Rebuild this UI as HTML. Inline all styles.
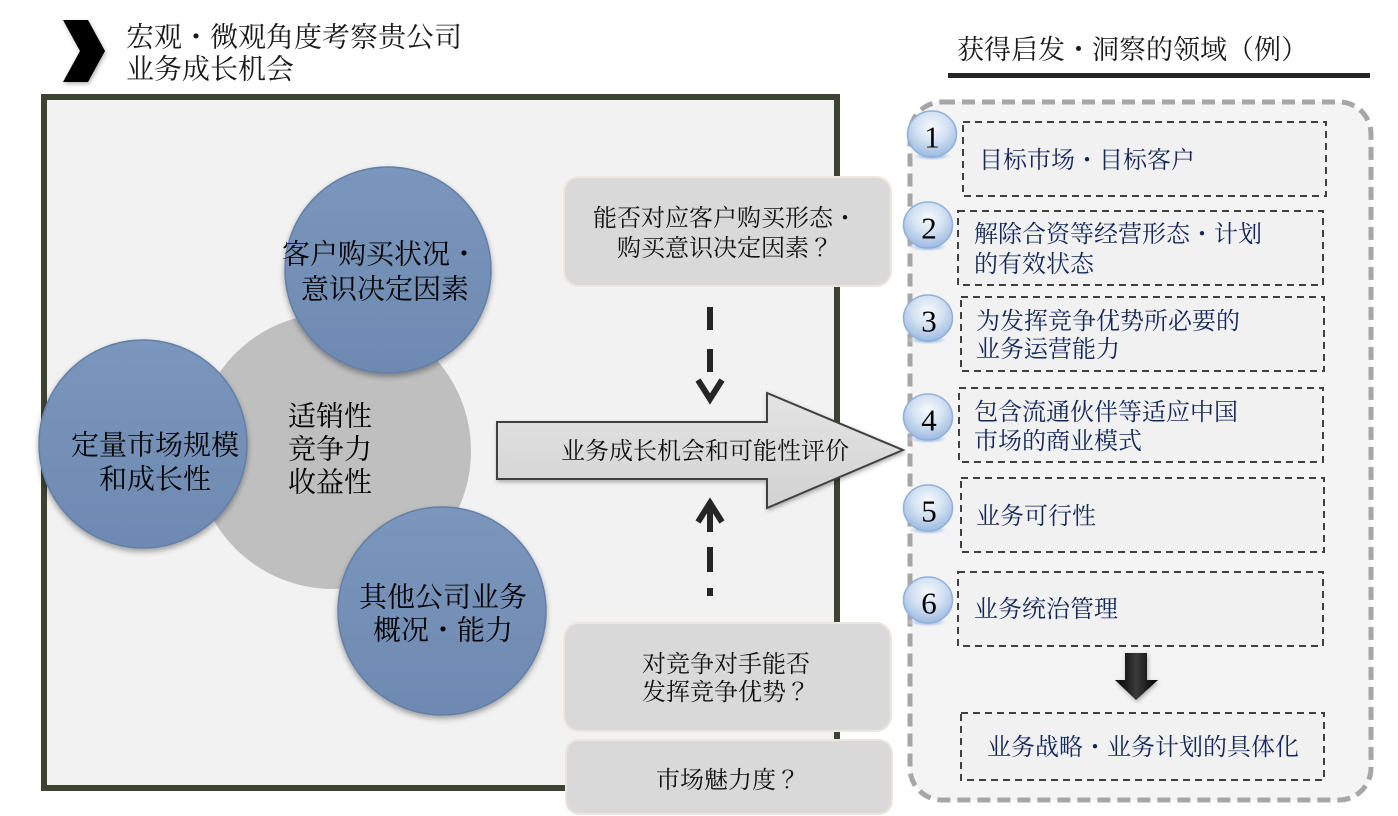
<!DOCTYPE html>
<html><head><meta charset="utf-8">
<style>
html,body{margin:0;padding:0;background:#fff;}
svg{display:block;}
text{font-family:"Liberation Serif","Noto Serif CJK JP","Noto Serif CJK SC","Noto Sans CJK JP",serif;}
</style></head>
<body>
<svg width="1398" height="816" viewBox="0 0 1398 816" xmlns="http://www.w3.org/2000/svg">
<defs>
  <linearGradient id="blueG" x1="0" y1="0" x2="0" y2="1">
    <stop offset="0" stop-color="#7b96bc"/>
    <stop offset="0.5" stop-color="#7490b6"/>
    <stop offset="1" stop-color="#6e8ab2"/>
  </linearGradient>
  <filter id="sh" x="-20%" y="-20%" width="140%" height="140%">
    <feDropShadow dx="0" dy="3" stdDeviation="3" flood-color="#000" flood-opacity="0.35"/>
  </filter>
  <filter id="sh2" x="-20%" y="-20%" width="140%" height="140%">
    <feDropShadow dx="1" dy="2" stdDeviation="2" flood-color="#000" flood-opacity="0.3"/>
  </filter>
  <linearGradient id="arrowG" x1="0" y1="0" x2="0" y2="1">
    <stop offset="0" stop-color="#e4e4e4"/>
    <stop offset="1" stop-color="#d2d2d2"/>
  </linearGradient>
  <radialGradient id="bub" cx="0.5" cy="0.35" r="0.65">
    <stop offset="0" stop-color="#f7fafd"/>
    <stop offset="0.5" stop-color="#d3e1f2"/>
    <stop offset="1" stop-color="#9dbae0"/>
  </radialGradient>
  <radialGradient id="bubSh" cx="0.5" cy="0.5" r="0.5">
    <stop offset="0" stop-color="#6f98d2"/>
    <stop offset="0.6" stop-color="#b9cfec" stop-opacity="0.7"/>
    <stop offset="1" stop-color="#ffffff" stop-opacity="0"/>
  </radialGradient>
  <linearGradient id="blkG" x1="0" y1="0" x2="1" y2="0">
    <stop offset="0" stop-color="#000"/>
    <stop offset="0.5" stop-color="#3a3a3a"/>
    <stop offset="1" stop-color="#000"/>
  </linearGradient>
  <g id="bubble">
    <ellipse cx="0" cy="22" rx="22" ry="5" fill="url(#bubSh)"/>
    <ellipse cx="0" cy="0" rx="24.5" ry="23" fill="url(#bub)" stroke="#8fb0da" stroke-width="1.5"/>
  </g>
</defs>

<!-- Header left -->
<polygon points="63,20 88,20 105,51 88,82 63,82 80,51" fill="#000" filter="url(#sh2)"/>
<text x="126" y="38" font-size="28" dominant-baseline="central" fill="#1a1a1a">宏观・微观角度考察贵公司</text>
<text x="126" y="70" font-size="28" dominant-baseline="central" fill="#1a1a1a">业务成长机会</text>

<!-- Header right -->
<text x="957" y="50" font-size="27" dominant-baseline="central" fill="#1a1a1a">获得启发・洞察的领域（例）</text>
<rect x="948" y="73" width="422" height="5" fill="#262626"/>

<!-- Left frame -->
<rect x="44" y="97" width="793" height="691" fill="#f2f2f2" stroke="#3c4332" stroke-width="6"/>

<!-- circles -->
<circle cx="333" cy="451" r="138" fill="#bfbfbf"/>
<circle cx="143" cy="444" r="104" fill="url(#blueG)" stroke="#637fa8" stroke-width="1.5" filter="url(#sh)"/>
<circle cx="388" cy="270" r="103" fill="url(#blueG)" stroke="#637fa8" stroke-width="1.5" filter="url(#sh)"/>
<circle cx="442" cy="611" r="104" fill="url(#blueG)" stroke="#637fa8" stroke-width="1.5" filter="url(#sh)"/>

<g font-size="28" fill="#000" dominant-baseline="central">
  <text x="380" y="255" text-anchor="middle">客户购买状况・</text>
  <text x="385" y="290" text-anchor="middle">意识决定因素</text>
  <text x="155" y="446" text-anchor="middle">定量市场规模</text>
  <text x="155" y="480" text-anchor="middle">和成长性</text>
  <text x="288" y="417">适销性</text>
  <text x="288" y="450">竞争力</text>
  <text x="288" y="483">收益性</text>
  <text x="443" y="598" text-anchor="middle">其他公司业务</text>
  <text x="443" y="631" text-anchor="middle">概况・能力</text>
</g>

<!-- Callout boxes -->
<rect x="564" y="177" width="327" height="109" rx="15" fill="#d9d9d9" stroke="#ebe7df" stroke-width="2"/>
<text x="725" y="219" font-size="24" text-anchor="middle" dominant-baseline="central" fill="#111">能否对应客户购买形态・</text>
<text x="725" y="249" font-size="24" text-anchor="middle" dominant-baseline="central" fill="#111">购买意识决定因素？</text>

<rect x="564" y="623" width="327" height="108" rx="15" fill="#d9d9d9" stroke="#ebe7df" stroke-width="2"/>
<text x="726" y="665" font-size="24" text-anchor="middle" dominant-baseline="central" fill="#111">对竞争对手能否</text>
<text x="726" y="693" font-size="24" text-anchor="middle" dominant-baseline="central" fill="#111">发挥竞争优势？</text>

<rect x="566" y="740" width="326" height="74" rx="13" fill="#d9d9d9" stroke="#ebe7df" stroke-width="2"/>
<text x="728" y="781" font-size="24" text-anchor="middle" dominant-baseline="central" fill="#111">市场魅力度？</text>

<!-- dashed arrow down -->
<rect x="707" y="307" width="6" height="23" fill="#262626"/>
<rect x="707" y="349" width="6" height="23" fill="#262626"/>
<polyline points="698,380 710,399 722,380" fill="none" stroke="#262626" stroke-width="6" stroke-linejoin="miter"/>

<!-- dashed arrow up -->
<rect x="707" y="506" width="6" height="26" fill="#262626"/>
<polyline points="698,522 710,503 722,522" fill="none" stroke="#262626" stroke-width="6" stroke-linejoin="miter"/>
<rect x="707" y="547" width="6" height="25" fill="#262626"/>
<rect x="707" y="588" width="6" height="8" fill="#262626"/>

<!-- big arrow -->
<polygon points="497,422 767,422 767,393 903,450 767,508 767,479 497,479" fill="url(#arrowG)" stroke="#404040" stroke-width="2" stroke-linejoin="miter" filter="url(#sh2)"/>
<text x="705" y="452" font-size="24" text-anchor="middle" dominant-baseline="central" fill="#111">业务成长机会和可能性评价</text>

<!-- Right container -->
<rect x="910" y="102" width="461" height="698" rx="32" fill="#f4f4f4" stroke="#a6a6a6" stroke-width="5" stroke-dasharray="13 7"/>

<g fill="#f1f1f1" stroke="#404040" stroke-width="2" stroke-dasharray="7 5">
  <rect x="963" y="122" width="363" height="74"/>
  <rect x="958" y="211" width="365" height="74"/>
  <rect x="961" y="297" width="363" height="74"/>
  <rect x="959" y="388" width="364" height="74"/>
  <rect x="961" y="478" width="363" height="74"/>
  <rect x="958" y="572" width="365" height="74"/>
  <rect x="961" y="713" width="363" height="67"/>
</g>

<g font-size="24" fill="#14275a" dominant-baseline="central">
  <text x="979" y="161">目标市场・目标客户</text>
  <text x="974" y="235">解除合资等经营形态・计划</text>
  <text x="974" y="265">的有效状态</text>
  <text x="976" y="322">为发挥竞争优势所必要的</text>
  <text x="976" y="350">业务运营能力</text>
  <text x="974" y="413">包含流通伙伴等适应中国</text>
  <text x="974" y="442">市场的商业模式</text>
  <text x="976" y="517">业务可行性</text>
  <text x="974" y="610">业务统治管理</text>
  <text x="1143" y="748" text-anchor="middle">业务战略・业务计划的具体化</text>
</g>

<!-- number bubbles -->
<g font-size="31" fill="#000" text-anchor="middle" dominant-baseline="central">
  <use href="#bubble" x="932" y="134"/><text x="932" y="137">1</text>
  <use href="#bubble" x="928" y="225"/><text x="929" y="228">2</text>
  <use href="#bubble" x="928" y="318"/><text x="929" y="321">3</text>
  <use href="#bubble" x="928" y="417"/><text x="929" y="420">4</text>
  <use href="#bubble" x="928" y="508"/><text x="929" y="511">5</text>
  <use href="#bubble" x="928" y="600"/><text x="929" y="603">6</text>
</g>

<!-- black down arrow -->
<polygon points="1125,653 1147,653 1147,680 1158,680 1136,700 1115,680 1125,680" fill="url(#blkG)" filter="url(#sh2)"/>
</svg>
</body></html>
